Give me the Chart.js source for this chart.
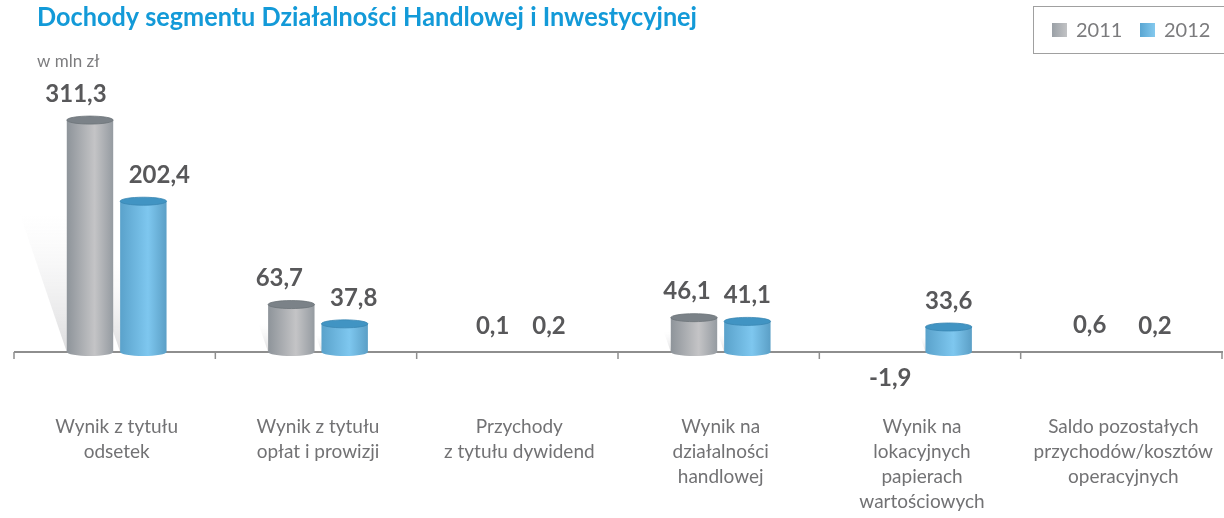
<!DOCTYPE html>
<html lang="pl">
<head>
<meta charset="utf-8">
<script src="https://cdn.jsdelivr.net/npm/chart.js@4/dist/chart.umd.min.js"></script>
<style>
  html, body { margin: 0; padding: 0; background: #fff; }
  #wrap { position: relative; width: 1224px; height: 518px; }
</style>
</head>
<body>
<div id="wrap"><canvas id="chart"></canvas></div>
<script>
// segment income, PLN m
const categories = [
  ["Wynik z tytułu", "odsetek"],
  ["Wynik z tytułu", "opłat i prowizji"],
  ["Przychody", "z tytułu dywidend"],
  ["Wynik na", "działalności", "handlowej"],
  ["Wynik na", "lokacyjnych", "papierach", "wartościowych"],
  ["Saldo pozostałych", "przychodów/kosztów", "operacyjnych"]
];
const years = ["2011", "2012"];
const values2011 = [311.3, 63.7, 0.1, 46.1, -1.9, 0.6];
const values2012 = [202.4, 37.8, 0.2, 41.1, 33.6, 0.2];
const yMin = -171.8;
const yMax = 365.1;

// horizontal nudges for the value labels so they clear the neighbouring bar
const labelShift = [
  [-14, -12, 0, -7, -5, -7],
  [16, 9, 3, 0, 0, 5]
];

const TITLE = "Dochody segmentu Działalności Handlowej i Inwestycyjnej";
const UNIT = "w mln zł";
const FONT = "Lato, 'Open Sans', sans-serif";

// cylinder palettes: [left, highlight, right], cap
const palettes = [
  { stops: ["#8e949a", "#c4c4c6", "#959ba1"], cap: "#7b8288", rim: "#6c7379", key: ["#9aa0a6", "#c2c3c5"] },
  { stops: ["#5aa2cb", "#7ec7ef", "#5b9fc6"], cap: "#4194c3", rim: "#3a86b3", key: ["#5aa6d2", "#84c9ee"] }
];

const fmt = v => v.toFixed(1).replace(".", ",");

function cylinder(ctx, bar, pal) {
  const h = bar.base - bar.y;
  if (Math.abs(h) < 3) return;
  const left = bar.x - bar.width / 2;
  const rx = bar.width / 2;
  const ry = 4;
  const top = Math.min(bar.y, bar.base);
  const bottom = Math.max(bar.y, bar.base);

  const g = ctx.createLinearGradient(left, 0, left + bar.width, 0);
  g.addColorStop(0, pal.stops[0]);
  g.addColorStop(0.6, pal.stops[1]);
  g.addColorStop(1, pal.stops[2]);

  ctx.save();
  ctx.fillStyle = g;
  ctx.beginPath();
  ctx.moveTo(left, top);
  ctx.lineTo(left, bottom);
  ctx.ellipse(bar.x, bottom, rx, ry, 0, Math.PI, 0, true);
  ctx.lineTo(left + bar.width, top);
  ctx.closePath();
  ctx.fill();

  ctx.fillStyle = pal.cap;
  ctx.beginPath();
  ctx.ellipse(bar.x, top, rx, ry, 0, 0, Math.PI * 2);
  ctx.fill();
  ctx.strokeStyle = pal.rim;
  ctx.lineWidth = 0.8;
  ctx.stroke();
  ctx.restore();
}

function shadow(ctx, bar) {
  const h = bar.base - bar.y;
  if (h < 3) return;
  const left = bar.x - bar.width / 2;
  const reach = h * 0.6;
  const slant = reach * 0.34;
  const g = ctx.createLinearGradient(0, bar.base, 0, bar.base - reach);
  g.addColorStop(0, "rgba(205,205,207,0.7)");
  g.addColorStop(1, "rgba(238,238,239,0)");
  ctx.save();
  ctx.fillStyle = g;
  ctx.beginPath();
  ctx.moveTo(left, bar.base);
  ctx.lineTo(left + bar.width, bar.base);
  ctx.lineTo(left + bar.width - slant, bar.base - reach);
  ctx.lineTo(left - slant, bar.base - reach);
  ctx.closePath();
  ctx.fill();
  ctx.restore();
}

const decor = {
  id: "decor",
  beforeDatasetsDraw(chart) {
    const { ctx, chartArea, scales } = chart;
    const zero = scales.y.getPixelForValue(0);
    chart.data.datasets.forEach((ds, i) => {
      chart.getDatasetMeta(i).data.forEach(bar => shadow(ctx, bar));
    });
    // zero line with category separators
    const x0 = chartArea.left - 2;
    const x1 = chartArea.right - 1;
    ctx.save();
    ctx.strokeStyle = "#8e8e8e";
    ctx.lineWidth = 2;
    ctx.beginPath();
    ctx.moveTo(x0, zero);
    ctx.lineTo(x1, zero);
    ctx.stroke();
    ctx.lineWidth = 1.5;
    const step = (chartArea.right - chartArea.left) / categories.length;
    for (let i = 0; i <= categories.length; i++) {
      const x = Math.min(x0 + i * step, x1);
      ctx.beginPath();
      ctx.moveTo(x, zero);
      ctx.lineTo(x, zero + 7);
      ctx.stroke();
    }
    ctx.restore();
  },
  afterDatasetsDraw(chart) {
    const { ctx, scales } = chart;
    chart.data.datasets.forEach((ds, i) => {
      chart.getDatasetMeta(i).data.forEach(bar => cylinder(ctx, bar, palettes[i]));
    });

    // value labels
    ctx.save();
    ctx.fillStyle = "#58585a";
    ctx.font = "bold 24px " + FONT;
    ctx.textAlign = "center";
    ctx.textBaseline = "middle";
    chart.data.datasets.forEach((ds, i) => {
      chart.getDatasetMeta(i).data.forEach((bar, j) => {
        const v = ds.data[j];
        const y = v >= 0 ? bar.y - 26 : bar.base + 26;
        ctx.fillText(fmt(v), bar.x + labelShift[i][j], y);
      });
    });

    // category labels
    ctx.fillStyle = "#727274";
    ctx.font = "19px " + FONT;
    ctx.textBaseline = "alphabetic";
    categories.forEach((lines, i) => {
      const x = scales.x.getPixelForValue(i);
      lines.forEach((line, k) => ctx.fillText(line, x, 433 + k * 25));
    });
    ctx.restore();
  },
  afterDraw(chart) {
    const { ctx } = chart;
    ctx.save();
    ctx.textBaseline = "alphabetic";
    ctx.fillStyle = "#139ad8";
    ctx.font = "bold 27px " + FONT;
    ctx.fillText(TITLE, 37, 26, 660);

    ctx.fillStyle = "#7d7d7f";
    ctx.font = "17px " + FONT;
    ctx.fillText(UNIT, 37, 67, 71);

    // legend box
    ctx.strokeStyle = "#a0a0a0";
    ctx.lineWidth = 1;
    ctx.strokeRect(1033.5, 6.5, 200, 47);
    ctx.font = "20px " + FONT;
    const keyX = [1052, 1140];
    years.forEach((yr, i) => {
      const g = ctx.createLinearGradient(keyX[i], 0, keyX[i] + 15, 0);
      g.addColorStop(0, palettes[i].key[0]);
      g.addColorStop(1, palettes[i].key[1]);
      ctx.fillStyle = g;
      ctx.fillRect(keyX[i], 23, 15, 14);
      ctx.fillStyle = "#7b7b7d";
      ctx.fillText(yr, keyX[i] + 24, 37);
    });
    ctx.restore();
  }
};

new Chart(document.getElementById("chart"), {
  type: "bar",
  data: {
    labels: categories,
    datasets: [
      { label: years[0], data: values2011 },
      { label: years[1], data: values2012 }
    ].map(ds => Object.assign(ds, {
      backgroundColor: "rgba(0,0,0,0)",
      borderWidth: 0,
      categoryPercentage: 0.53,
      barPercentage: 0.87
    }))
  },
  options: {
    responsive: true,
    maintainAspectRatio: false,
    animation: false,
    layout: { padding: { left: 16, right: 0, top: 80, bottom: 38 } },
    plugins: { legend: { display: false }, tooltip: { enabled: false } },
    scales: {
      x: { display: false },
      y: { display: false, min: yMin, max: yMax }
    }
  },
  plugins: [decor]
});
</script>
</body>
</html>
